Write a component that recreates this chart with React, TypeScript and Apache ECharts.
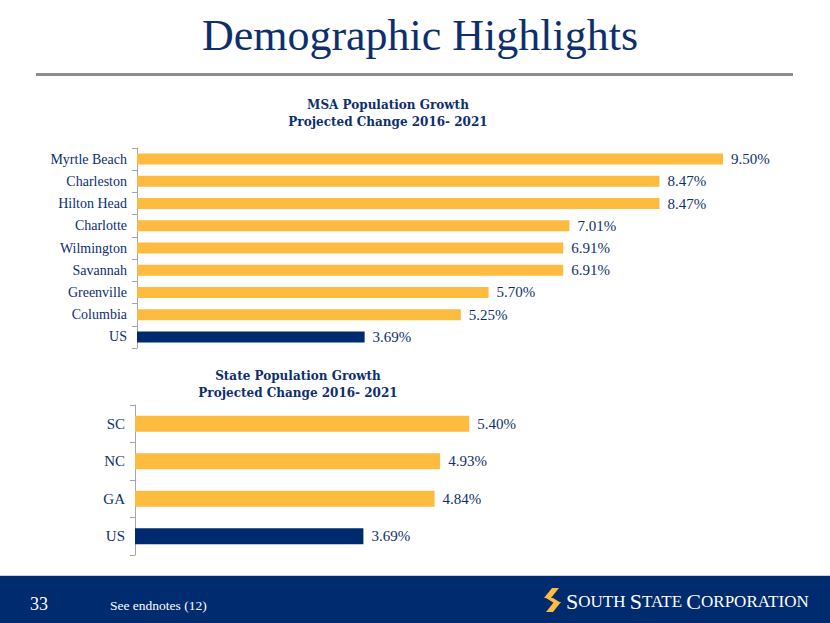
import React, { useEffect, useRef } from "react";
import * as echarts from "echarts";

const msaCategories = ["Myrtle Beach", "Charleston", "Hilton Head", "Charlotte", "Wilmington", "Savannah", "Greenville", "Columbia", "US"];
const msaValues = [9.5, 8.47, 8.47, 7.01, 6.91, 6.91, 5.7, 5.25, 3.69];
const stateCategories = ["SC", "NC", "GA", "US"];
const stateValues = [5.4, 4.93, 4.84, 3.69];

const NAVY = "#0e2f6e";
const GOLD = "#fdbb40";
const BAR_NAVY = "#002a6e";
const SERIF = "'Liberation Serif', 'DejaVu Serif', serif";
const DSERIF = "'DejaVu Serif', 'Liberation Serif', serif";

function barData(cats: string[], vals: number[]) {
  return vals.map((v, i) => ({
    value: v,
    itemStyle: { color: cats[i] === "US" ? BAR_NAVY : GOLD },
  }));
}

export default function App() {
  const ref = useRef<HTMLDivElement>(null);
  useEffect(() => {
    document.body.style.margin = "0";
    const chart = echarts.init(ref.current!, null, { renderer: "svg" });
    const yAxisCommon = {
      type: "category" as const,
      inverse: true,
      axisLine: { show: true, lineStyle: { color: "#a6a6a6", width: 1 } },
      axisTick: { show: true, length: 5, lineStyle: { color: "#a6a6a6" } },
      axisLabel: { color: NAVY, fontFamily: SERIF, fontSize: 14, margin: 10 },
    };
    const xAxisCommon = {
      type: "value" as const,
      min: 0,
      max: 9.5,
      show: false,
      splitLine: { show: false },
    };
    const labelCommon = {
      show: true,
      position: "right" as const,
      distance: 8,
      color: NAVY,
      fontFamily: SERIF,
      fontSize: 15,
      formatter: (p: any) => Number(p.value).toFixed(2) + "%",
    };
    chart.setOption({
      animation: false,
      backgroundColor: "#ffffff",
      grid: [
        { left: 137, width: 586, top: 148, height: 200 },
        { left: 135, width: 588, top: 405, height: 150 },
      ],
      xAxis: [
        { ...xAxisCommon, gridIndex: 0 },
        { ...xAxisCommon, gridIndex: 1 },
      ],
      yAxis: [
        { ...yAxisCommon, gridIndex: 0, data: msaCategories },
        { ...yAxisCommon, gridIndex: 1, data: stateCategories, axisLabel: { ...yAxisCommon.axisLabel, fontSize: 15 } },
      ],
      series: [
        {
          type: "bar",
          xAxisIndex: 0,
          yAxisIndex: 0,
          data: barData(msaCategories, msaValues),
          barWidth: 11,
          label: labelCommon,
        },
        {
          type: "bar",
          xAxisIndex: 1,
          yAxisIndex: 1,
          data: barData(stateCategories, stateValues),
          barWidth: 16,
          label: labelCommon,
        },
      ],
      graphic: [
        {
          type: "text",
          x: 420,
          y: 13,
          style: { text: "Demographic Highlights", fill: NAVY, font: `44px ${SERIF}`, align: "center" },
        },
        {
          type: "rect",
          shape: { x: 36, y: 73, width: 757, height: 3 },
          style: { fill: "#8c8c8c" },
        },
        {
          type: "text",
          x: 388,
          y: 96,
          style: {
            text: "MSA Population Growth\nProjected Change 2016- 2021",
            fill: NAVY,
            font: `bold 12px ${DSERIF}`,
            align: "center",
            lineHeight: 17,
          },
        },
        {
          type: "text",
          x: 298,
          y: 367,
          style: {
            text: "State Population Growth\nProjected Change 2016- 2021",
            fill: NAVY,
            font: `bold 12px ${DSERIF}`,
            align: "center",
            lineHeight: 17,
          },
        },
        {
          type: "rect",
          shape: { x: 0, y: 576, width: 830, height: 47 },
          style: { fill: "#002b6f" },
        },
        {
          type: "rect",
          shape: { x: 0, y: 575, width: 830, height: 1 },
          style: { fill: "#c8d0e0" },
        },
        {
          type: "text",
          x: 30,
          y: 595,
          style: { text: "33", fill: "#ffffff", font: `18px ${SERIF}` },
        },
        {
          type: "text",
          x: 110,
          y: 598,
          style: { text: "See endnotes (12)", fill: "#ffffff", font: `13.5px ${SERIF}` },
        },
        {
          type: "polygon",
          shape: { points: [[552, 588], [559, 588], [551, 598], [544, 598]] },
          style: { fill: GOLD },
        },
        {
          type: "polygon",
          shape: { points: [[546, 598], [553, 598], [561, 603], [554, 603]] },
          style: { fill: GOLD },
        },
        {
          type: "polygon",
          shape: { points: [[554, 602], [561, 602], [553, 612], [546, 612]] },
          style: { fill: GOLD },
        },
        {
          type: "text",
          x: 566,
          y: 590,
          style: {
            text: "{b|S}{s|OUTH }{b|S}{s|TATE }{b|C}{s|ORPORATION}",
            rich: {
              b: { fill: "#ffffff", fontFamily: SERIF, fontSize: 22 },
              s: { fill: "#ffffff", fontFamily: SERIF, fontSize: 17 },
            },
          },
        },
      ],
    });
    return () => chart.dispose();
  }, []);
  return <div ref={ref} style={{ width: 830, height: 623 }} />;
}
